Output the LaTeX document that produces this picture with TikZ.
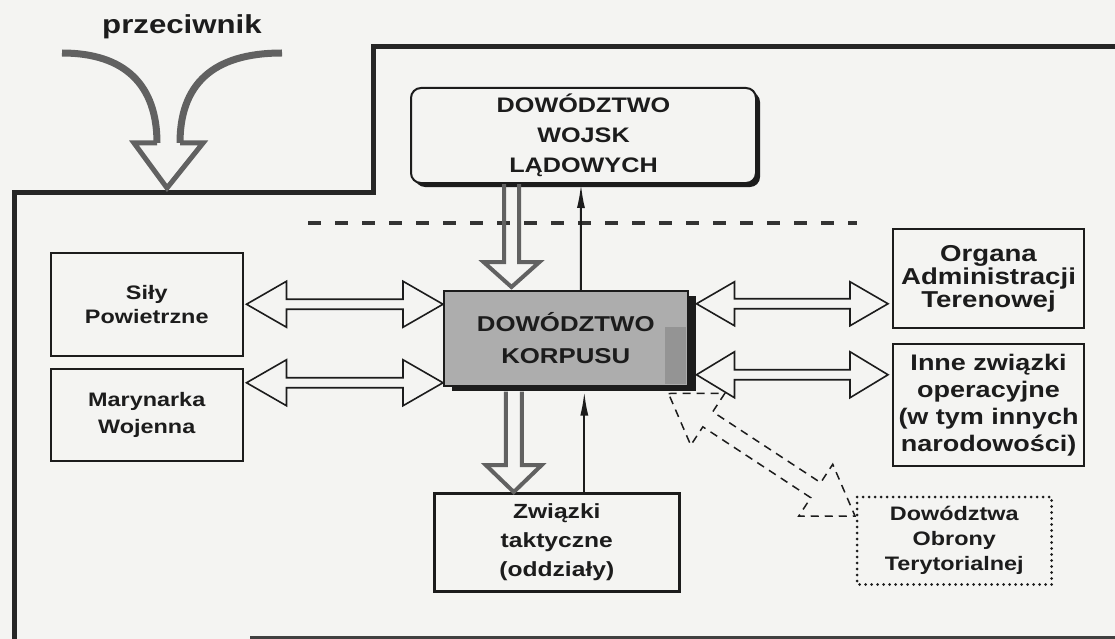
\documentclass[tikz,border=0pt]{standalone}
\usepackage{fontspec}
\setmainfont{Liberation Sans}[FakeStretch=1.2]
\usetikzlibrary{calc,arrows.meta,shadows}
\definecolor{paper}{RGB}{244,244,242}
\definecolor{ink}{RGB}{28,28,28}
\newcommand\fs[2]{\fontsize{#1}{#2}\selectfont\bfseries}
\tikzset{
  hL/.store in=\arrL, hW/.store in=\arrW, hw/.store in=\arrw,
  hL=40pt, hW=23pt, hw=5pt,
  dbl/.style={to path={
    (\tikztostart)
    -- ($($(\tikztostart)!\arrL!(\tikztotarget)$)!\arrW!90:(\tikztotarget)$)
    -- ($($(\tikztostart)!\arrL!(\tikztotarget)$)!\arrw!90:(\tikztotarget)$)
    -- ($($(\tikztotarget)!\arrL!(\tikztostart)$)!\arrw!-90:(\tikztostart)$)
    -- ($($(\tikztotarget)!\arrL!(\tikztostart)$)!\arrW!-90:(\tikztostart)$)
    -- (\tikztotarget)
    -- ($($(\tikztotarget)!\arrL!(\tikztostart)$)!\arrW!90:(\tikztostart)$)
    -- ($($(\tikztotarget)!\arrL!(\tikztostart)$)!\arrw!90:(\tikztostart)$)
    -- ($($(\tikztostart)!\arrL!(\tikztotarget)$)!\arrw!-90:(\tikztotarget)$)
    -- ($($(\tikztostart)!\arrL!(\tikztotarget)$)!\arrW!-90:(\tikztotarget)$)
    -- cycle}},
  sgl/.style={to path={
    ($(\tikztostart)!\arrw!90:(\tikztotarget)$)
    -- ($($(\tikztotarget)!\arrL!(\tikztostart)$)!\arrw!-90:(\tikztostart)$)
    -- ($($(\tikztotarget)!\arrL!(\tikztostart)$)!\arrW!-90:(\tikztostart)$)
    -- (\tikztotarget)
    -- ($($(\tikztotarget)!\arrL!(\tikztostart)$)!\arrW!90:(\tikztostart)$)
    -- ($($(\tikztotarget)!\arrL!(\tikztostart)$)!\arrw!90:(\tikztostart)$)
    -- ($(\tikztostart)!\arrw!-90:(\tikztotarget)$)}},
  box/.style={draw=ink, line width=1.5pt, align=center, inner sep=0pt,
    anchor=north west, fill=paper, text=ink},
  hollow/.style={draw=ink, line width=1.6pt, fill=paper, line join=miter},
  hatch/.style={draw=black!62, line width=4pt, line join=miter},
  border/.style={draw=black!85, line width=5pt, line join=miter},
  thinarr/.style={draw=ink, line width=2pt, -{Latex[length=24pt,width=8pt]}},
  dashhollow/.style={draw=ink, line width=1.5pt, dash pattern=on 8pt off 6pt, line join=miter},
}
\begin{document}
\begin{tikzpicture}[x=1pt,y=-1pt]
\useasboundingbox (0,0) rectangle (1115,639);
\fill[paper] (0,0) rectangle (1115,639);

% frame
\draw[border] (14,660) -- (14,192) -- (373,192) -- (373,47) -- (1130,47);
\draw[black!75, line width=3pt] (250,637) -- (1130,637);

% separator
\coordinate (sepL) at (308,223);
\coordinate (sepR) at (857,223);
\draw[black!80, line width=3.5pt, dash pattern=on 13pt off 14pt] (sepL) -- (sepR);

% przeciwnik
\node[font=\fs{26}{30}, text=ink] (prz) at (182,27) {przeciwnik};
\coordinate (pl) at (62,53);
\coordinate (pr) at (282,53);
\coordinate (pt) at (167,188);
\draw[black!62, line width=7pt] (pl) .. controls (125,53) and (157,85) .. (157,143);
\draw[black!62, line width=7pt] (pr) .. controls (212,53) and (180,85) .. (180,143);
\draw[black!62, line width=5pt, line join=miter] (157,143) -- (134,143) -- (pt) -- (203,143) -- (180,143);

% nodes
\node[box, rounded corners=10pt, line width=2pt, minimum width=345pt, minimum height=95pt,
  font=\fs{21}{30}, drop shadow={shadow xshift=4pt, shadow yshift=-4pt, opacity=1, fill=ink}]
  (dwl) at (410,87) {DOWÓDZTWO\\WOJSK\\LĄDOWYCH};
\node[box, fill=black!32, minimum width=244pt, minimum height=95pt, font=\fs{21.5}{32},
  drop shadow={shadow xshift=8pt, shadow yshift=-5pt, opacity=1, fill=ink}]
  (dk) at (443,290) {DOWÓDZTWO\\KORPUSU};
\fill[black!42] (665,327) rectangle (686,384);
\node[box, minimum width=192pt, minimum height=103pt, font=\fs{19.5}{24}]
  (sp) at (50,252) {Siły\\Powietrzne};
\node[box, minimum width=192pt, minimum height=92pt, font=\fs{19.5}{27}]
  (mw) at (50,368) {Marynarka\\Wojenna};
\node[box, line width=2pt, minimum width=191pt, minimum height=99pt, font=\fs{23}{23}]
  (oat) at (892,228) {Organa\\Administracji\\Terenowej};
\node[box, line width=2pt, minimum width=191pt, minimum height=122pt, font=\fs{22.5}{27}]
  (inne) at (892,343) {Inne związki\\operacyjne\\(w tym innych\\narodowości)};
\node[box, line width=2.6pt, minimum width=245pt, minimum height=98pt, font=\fs{20.5}{29}]
  (zt) at (433,492) {Związki\\taktyczne\\(oddziały)};
\node[box, draw=none, minimum width=193pt, minimum height=86pt, font=\fs{19.5}{25}]
  (dot) at (857,497) {Dowództwa\\Obrony\\Terytorialnej};
\draw[ink, line width=3pt, dash pattern=on 0pt off 6pt, line cap=round]
  (dot.north west) rectangle (dot.south east);

% hollow double arrows
\coordinate (a1) at ([xshift=3pt]sp.east);
\coordinate (a2) at ([xshift=3pt,yshift=32pt]mw.east);
\coordinate (a3) at ([xshift=8pt,yshift=34.5pt]dk.east);
\coordinate (a4) at ([xshift=8pt,yshift=-36.5pt]dk.east);
\draw[hollow] (a1) to[dbl] (a1 -| dk.west);
\draw[hollow] (a2) to[dbl] (a2 -| dk.west);
\draw[hollow, hL=38pt, hW=22pt] (a3) to[dbl] ([xshift=-4pt]a3 -| oat.west);
\draw[hollow, hL=38pt, hW=23pt] (a4) to[dbl] ([xshift=-4pt]a4 -| inne.west);

% dashed hollow arrow to DOT
\coordinate (d1) at ([xshift=-20pt,yshift=-7pt]dk.south east);
\coordinate (d2) at ([xshift=-2pt,yshift=-19pt]dot.north west);
\draw[dashhollow, hL=47pt, hW=31pt, hw=9pt] (d1) to[dbl] (d2);

% hatched vertical arrows
\coordinate (v1) at ([xshift=-72pt]dwl.south);
\coordinate (v2) at ([xshift=-52pt,yshift=-5pt]dk.south);
\draw[hatch, hL=25pt, hW=28pt, hw=7.5pt] (v1) to[sgl] ([yshift=3pt]v1 |- dk.north);
\draw[hatch, hL=27pt, hW=28pt, hw=8pt] (v2) to[sgl] (v2 |- zt.north);

% thin report arrows
\coordinate (t1) at ([xshift=15pt]dk.north);
\draw[thinarr] (t1) -- ([xshift=-2.5pt]dwl.south);
\coordinate (t2) at ([xshift=27.5pt]zt.north);
\draw[thinarr] (t2) -- ([yshift=-5pt]t2 |- dk.south);
\end{tikzpicture}
\end{document}
